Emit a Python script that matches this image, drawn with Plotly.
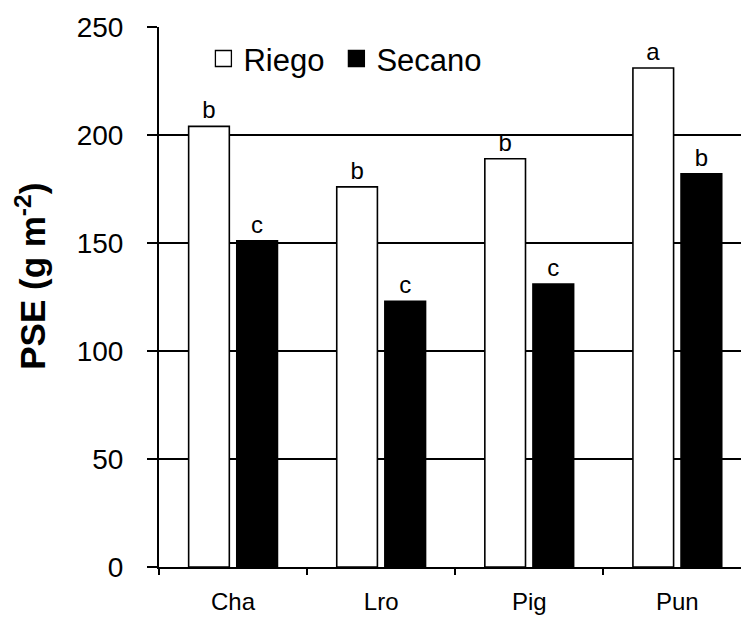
import plotly.graph_objects as go

categories = ["Cha", "Lro", "Pig", "Pun"]
riego = [204, 176, 189, 231]
secano = [151, 123, 131, 182]
riego_letters = ["b", "b", "b", "a"]
secano_letters = ["c", "c", "c", "b"]
y_ticks = [0, 50, 100, 150, 200, 250]

FONT = "Liberation Sans, Arial, sans-serif"

fig = go.Figure()
fig.add_trace(go.Bar(
    name="Riego", x=categories, y=riego, text=riego_letters,
    textposition="outside", cliponaxis=False, showlegend=False,
    textfont=dict(size=24, color="black", family=FONT),
    marker=dict(color="white", line=dict(color="black", width=1.6)),
))
fig.add_trace(go.Bar(
    name="Secano", x=categories, y=secano, text=secano_letters,
    textposition="outside", cliponaxis=False, showlegend=False,
    textfont=dict(size=24, color="black", family=FONT),
    marker=dict(color="black", line=dict(color="black", width=1.6)),
))
# legend entries (square symbols), each in its own legend for exact placement
for name, col, lg in [("Riego", "white", "legend"), ("Secano", "black", "legend2")]:
    fig.add_trace(go.Scatter(
        name=name, x=[None], y=[None], mode="markers", legend=lg,
        marker=dict(symbol="square", size=16, color=col,
                    line=dict(color="black", width=1.3)),
        showlegend=True, hoverinfo="skip",
    ))

legend_common = dict(
    orientation="h", y=0.941, xanchor="left", yanchor="middle",
    font=dict(size=31, family=FONT, color="black"),
    bgcolor="rgba(0,0,0,0)", itemclick=False,
)

fig.update_layout(
    width=741, height=617,
    margin=dict(l=159, r=0, t=27, b=50, pad=0),
    paper_bgcolor="white", plot_bgcolor="white",
    barmode="group", bargap=0.35, bargroupgap=0.155,
    font=dict(family=FONT, color="black"),
    showlegend=True,
    legend=dict(x=0.0763, **legend_common),
    legend2=dict(x=0.3048, **legend_common),
    xaxis=dict(
        type="category", range=[-0.5, 3.43],
        showline=True, linecolor="black", linewidth=2,
        ticks="outside", tickson="boundaries", ticklen=6, tickwidth=1.5,
        tickcolor="black", showgrid=False,
        tickfont=dict(size=24, family=FONT, color="black"),
        ticklabelstandoff=12,
    ),
    yaxis=dict(
        range=[0, 250], tickvals=y_ticks,
        showline=True, linecolor="black", linewidth=2,
        ticks="outside", ticklen=10, tickwidth=1.5, tickcolor="black",
        showgrid=True, gridcolor="black", gridwidth=1.5,
        zeroline=False,
        tickfont=dict(size=28, family=FONT, color="black"),
        ticklabelstandoff=18,
    ),
)

fig.add_annotation(
    text="<b>PSE (g m<sup>-2</sup>)</b>", textangle=-90,
    xref="paper", yref="paper", x=-0.2204, y=0.5388,
    xanchor="center", yanchor="middle", showarrow=False,
    font=dict(size=35, family=FONT, color="black"),
)

fig.write_html("out.html")
